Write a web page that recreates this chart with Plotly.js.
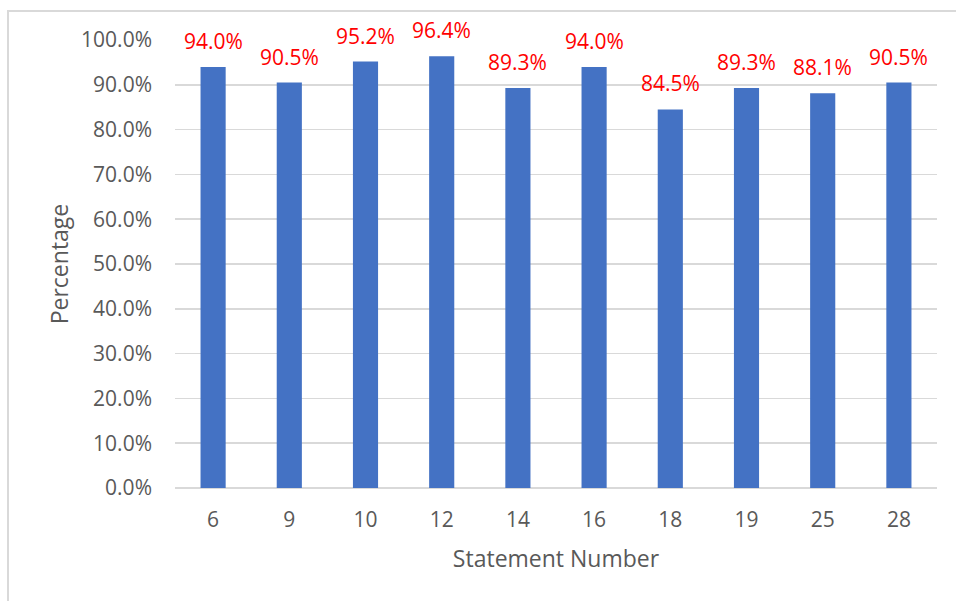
<!DOCTYPE html>
<html>
<head>
<meta charset="utf-8">
<script src="https://cdn.plot.ly/plotly-3.0.1.min.js"></script>
<style>
  html, body { margin: 0; padding: 0; background: #ffffff; overflow: hidden; }
  #frame { position: absolute; left: 7px; top: 10px; width: 1200px; height: 1200px;
           border: 2px solid #d9d9d9; box-sizing: border-box; pointer-events: none; z-index: 5; }
  #chart { position: absolute; left: 0; top: 0; width: 956px; height: 601px; }
</style>
</head>
<body>
<div id="chart"></div>
<div id="frame"></div>
<script>
const categories = ["6", "9", "10", "12", "14", "16", "18", "19", "25", "28"];
const percentages = [0.940, 0.905, 0.952, 0.964, 0.893, 0.940, 0.845, 0.893, 0.881, 0.905];
const yTickValues = [0, 0.1, 0.2, 0.3, 0.4, 0.5, 0.6, 0.7, 0.8, 0.9, 1.0];

const font = "'Open Sans', sans-serif";
const grey = "#595959";

const trace = {
  type: "bar",
  x: categories,
  y: percentages,
  width: 0.33,
  marker: { color: "#4472C4" },
  hoverinfo: "skip"
};

// category axis: annotation x is the category's position index
const annotations = categories.map((c, i) => ({
  x: i,
  y: percentages[i],
  xref: "x",
  yref: "y",
  text: (percentages[i] * 100).toFixed(1) + "%",
  showarrow: false,
  yanchor: "bottom",
  yshift: 10,
  font: { family: font, size: 21, color: "#ff0000" }
}));

const layout = {
  width: 956,
  height: 601,
  margin: { l: 175, r: 19, t: 40, b: 113 },
  paper_bgcolor: "rgba(0,0,0,0)",
  plot_bgcolor: "#ffffff",
  showlegend: false,
  xaxis: {
    type: "category",
    categoryorder: "array",
    categoryarray: categories,
    range: [-0.5, categories.length - 0.5],
    tickfont: { family: font, size: 21, color: grey },
    showgrid: false,
    showline: false,
    ticks: "",
    ticklabelstandoff: 17,
    title: { text: "Statement Number", font: { family: font, size: 23, color: grey }, standoff: 18 },
    automargin: false
  },
  yaxis: {
    range: [0, 1],
    tickvals: yTickValues,
    tickformat: ".1%",
    tickfont: { family: font, size: 21, color: grey },
    showgrid: true,
    gridcolor: "#d9d9d9",
    gridwidth: 1.5,
    zeroline: true,
    zerolinecolor: "#d9d9d9",
    zerolinewidth: 1.5,
    showline: false,
    ticks: "",
    ticklabelstandoff: 22,
    title: { text: "Percentage", font: { family: font, size: 23, color: grey }, standoff: 6 },
    automargin: false
  },
  annotations: annotations
};

Plotly.newPlot("chart", [trace], layout, { displayModeBar: false, staticPlot: true });
</script>
</body>
</html>
